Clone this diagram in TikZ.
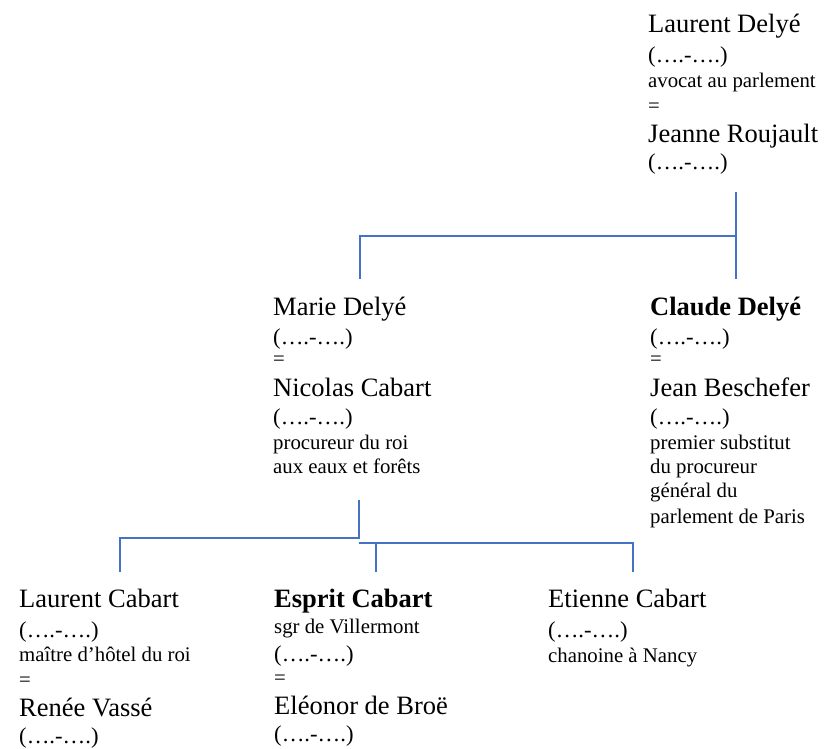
\documentclass[tikz,border=0pt]{standalone}
\usepackage{fontspec}
\setmainfont{Liberation Serif}
\definecolor{lineblue}{RGB}{68,114,196}
\newcommand\blockfont{\fontsize{20.8}{24}\selectfont\lineskiplimit=-100pt\lineskip=0pt}
\newcommand\pname[1]{{\fontsize{26.5}{24}\selectfont\rule{0pt}{20pt}#1}}
\newcommand\pdate{{\fontsize{22.7}{24}\selectfont(….-….)}}
\newcommand\prole[1]{{\fontsize{20.8}{24}\selectfont#1}}
\begin{document}
\begin{tikzpicture}[x=1pt,y=-1pt,
 person/.style={anchor=north west,inner sep=0pt,align=left,font=\blockfont},
 link/.style={draw=lineblue,line width=1.8pt}]
\useasboundingbox (0,0) rectangle (825,748);
% parents
\node[person] (ld) at (648,12) {\pname{Laurent Delyé}\\[6pt]\pdate\\[1pt]\prole{avocat au parlement}\\[1pt]\prole{=}\\[6pt]\pname{Jeanne Roujault}\\[3pt]\pdate};
% children
\node[person] (md) at (273,295) {\pname{Marie Delyé}\\[5pt]\pdate\\[-3pt]\prole{=}\\[7pt]\pname{Nicolas Cabart}\\[4pt]\pdate\\[1pt]\prole{procureur du roi}\\\prole{aux eaux et forêts}};
\node[person] (cd) at (650,295) {\pname{\textbf{Claude Delyé}}\\[5pt]\pdate\\[-3pt]\prole{=}\\[7pt]\pname{Jean Beschefer}\\[4pt]\pdate\\[1pt]\prole{premier substitut}\\\prole{du procureur}\\\prole{général du}\\[2pt]\prole{parlement de Paris}};
% grandchildren
\node[person] (lc) at (19,587) {\pname{Laurent Cabart}\\[6pt]\pdate\\\prole{maître d’hôtel du roi}\\[1pt]\prole{=}\\[6pt]\pname{Renée Vassé}\\[3pt]\pdate};
\node[person] (sc) at (274,587) {\pname{\textbf{Esprit Cabart}}\\[2pt]\prole{sgr de Villermont}\\[4pt]\pdate\\[-1pt]\prole{=}\\[6pt]\pname{Eléonor de Broë}\\[3pt]\pdate};
\node[person] (ec) at (548,587) {\pname{Etienne Cabart}\\[6pt]\pdate\\[1pt]\prole{chanoine à Nancy}};
% connectors
\coordinate (t1) at (736,236);
\coordinate (t2) at (360,236);
\draw[link] ([yshift=-18pt]ld.south -| t1) -- ([yshift=16pt]cd.north -| t1);
\draw[link] (t1) -- (t2) -- ([yshift=16pt]md.north -| t2);
\coordinate (m1) at (359,538);
\coordinate (m2) at (120,538);
\coordinate (m3) at (633,543);
\coordinate (m4) at (376,543);
\draw[link] ([yshift=-26pt]md.south -| m1) -- (m1) -- (m2) -- ([yshift=15pt]lc.north -| m2);
\draw[link] (m1 |- m3) -- (m3) -- ([yshift=15pt]ec.north -| m3);
\draw[link] (m4) -- ([yshift=15pt]sc.north -| m4);
\end{tikzpicture}
\end{document}
